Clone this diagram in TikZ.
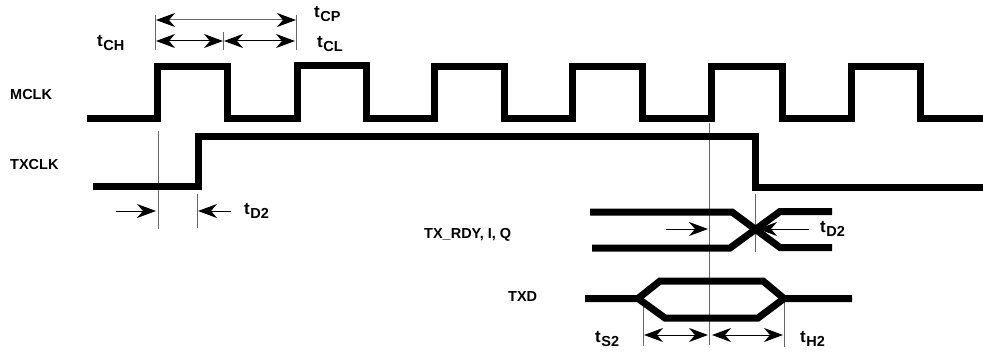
\documentclass[tikz,border=0pt]{standalone}
\usepackage{fontspec}
\setmainfont{Liberation Sans}
\usetikzlibrary{arrows.meta}
\newcommand{\tlab}[1]{{\fontsize{17}{17}\selectfont\bfseries t}\kern0.5pt\raisebox{-3.5pt}{\fontsize{14.5}{14.5}\selectfont\bfseries #1}}
\tikzset{
  tip/.tip={Stealth[length=19pt,width=14pt,inset=6pt,color=black]},
  wave/.style={line width=7pt,line join=miter,line cap=butt,black},
  guide/.style={line width=0.9pt,black!60},
  dim/.style={line width=1pt,black,tip-tip},
  pointer/.style={line width=1pt,black,-tip},
  siglab/.style={font=\fontsize{14.5}{14.5}\selectfont\bfseries,inner sep=0pt,anchor=west},
  timelab/.style={inner sep=0pt,anchor=west}
}
\begin{document}
\begin{tikzpicture}[x=1pt,y=-1pt]
\useasboundingbox (0,0) rectangle (983,353);
% guides
\coordinate (a1) at (155,15); \coordinate (a1b) at (155,50);
\coordinate (a2) at (296,15); \coordinate (a2b) at (296,50);
\coordinate (a3) at (223,32); \coordinate (a3b) at (223,50);
\coordinate (b1) at (158,131); \coordinate (b1b) at (158,229);
\coordinate (b2) at (197,194); \coordinate (b2b) at (197,228);
\coordinate (c1) at (709.5,123); \coordinate (c1b) at (709.5,345);
\coordinate (c2) at (755,194); \coordinate (c2b) at (755,252);
\coordinate (c3) at (643,298); \coordinate (c3b) at (643,346);
\coordinate (c4) at (784,298); \coordinate (c4b) at (784,347);
\foreach \p/\q in {a1/a1b,a2/a2b,a3/a3b,b1/b1b,b2/b2b,c1/c1b,c2/c2b,c3/c3b,c4/c4b}
  \draw[guide] (\p) -- (\q);
% waveforms
\draw[wave] (87,118) -- (157,118) -- (157,67) -- (227,67) -- (227,118) -- (297,118) -- (297,65.5) -- (366,65.5) -- (366,118)
  -- (434,118) -- (434,67) -- (504,67) -- (504,118) -- (572,118) -- (572,67) -- (642,67) -- (642,118)
  -- (711.5,118) -- (711.5,67) -- (782,67) -- (782,118) -- (851,118) -- (851,67) -- (920,67) -- (920,118) -- (983,118);
\draw[wave] (93,186) -- (198,186) -- (198,136) -- (755,136) -- (755,187) -- (983,187);
\draw[wave] (590,212) -- (732,212) -- (780,247.5) -- (832,247.5);
\draw[wave] (592,248) -- (730,248) -- (780,211.5) -- (832,211.5);
\draw[wave] (585,298.5) -- (638,298.5) -- (660,281) -- (763,281) -- (784,298.5) -- (852,298.5);
\draw[wave] (638,298.5) -- (665,318) -- (758,318) -- (784,298.5);
% dimension arrows
\coordinate (d1) at (156,20); \coordinate (d2) at (296,20);
\coordinate (d3) at (156,41); \coordinate (d4) at (223,41);
\coordinate (d5) at (224,41); \coordinate (d6) at (295,41);
\draw[dim,black!60] (d1) -- (d2);
\draw[dim] (d3) -- (d4);
\draw[dim] (d5) -- (d6);
\coordinate (e1) at (116,211); \coordinate (e2) at (156,211);
\coordinate (e3) at (231,211); \coordinate (e4) at (198,211);
\draw[pointer] (e1) -- (e2);
\draw[pointer] (e3) -- (e4);
\coordinate (f1) at (666,229); \coordinate (f2) at (708,229);
\coordinate (f3) at (809,229); \coordinate (f4) at (758,229);
\draw[pointer] (f1) -- (f2);
\draw[pointer] (f3) -- (f4);
\coordinate (g1) at (644,335); \coordinate (g2) at (708,335);
\coordinate (g3) at (712,335); \coordinate (g4) at (783,335);
\draw[dim] (g1) -- (g2);
\draw[dim] (g3) -- (g4);
% labels
\node[siglab] (mclk) at (10,95) {MCLK};
\node[siglab] (txclk) at (10,165) {TXCLK};
\node[siglab] (rdy) at (424,235) {TX\_RDY, I, Q};
\node[siglab] (txd) at (508,297) {TXD};
\node[timelab] (tcp) at (314,14) {\tlab{CP}};
\node[timelab] (tcl) at (317,44) {\tlab{CL}};
\node[timelab] (tch) at (97,43) {\tlab{CH}};
\node[timelab] (td1) at (244,211) {\tlab{D2}};
\node[timelab] (td2) at (820,229) {\tlab{D2}};
\node[timelab] (ts) at (595,339) {\tlab{S2}};
\node[timelab] (th) at (800,339) {\tlab{H2}};
\end{tikzpicture}
\end{document}
